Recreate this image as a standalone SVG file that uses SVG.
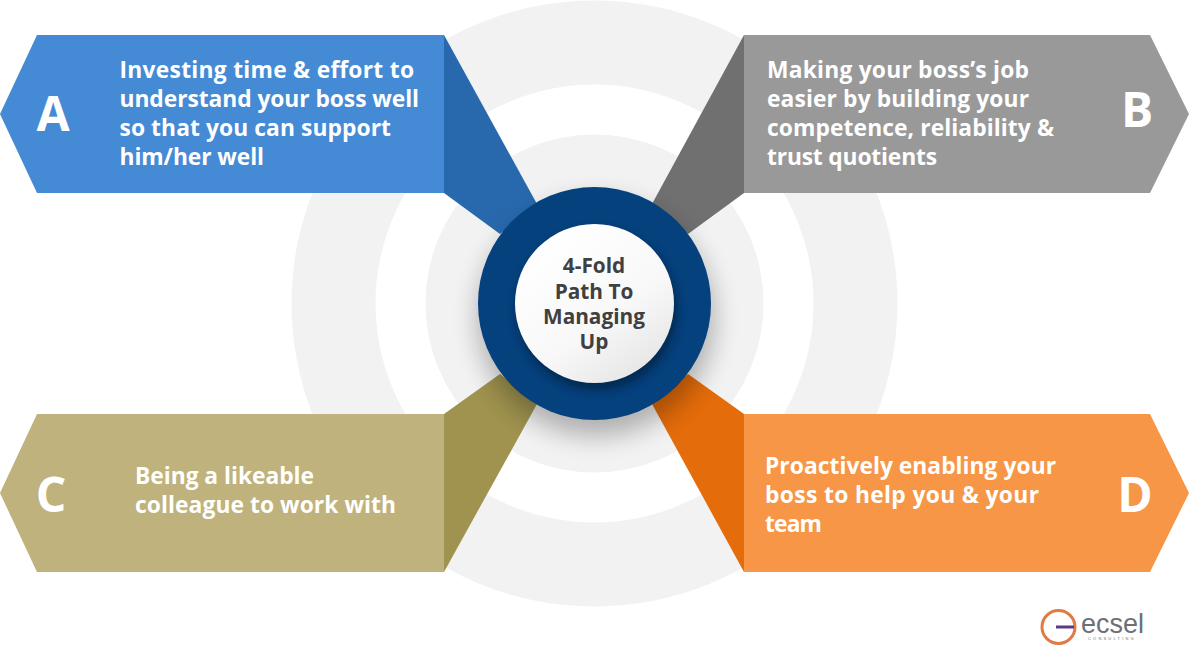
<svg xmlns="http://www.w3.org/2000/svg" width="1189" height="648" viewBox="0 0 1189 648">
  <style>
    .body { font-family: "Open Sans", "Noto Sans", sans-serif; font-weight: 700; font-size: 22.8px; fill: #ffffff; }
    .letter { font-family: "Open Sans", "Noto Sans", sans-serif; font-weight: 700; font-size: 48px; fill: #ffffff; text-anchor: middle; }
    .hub { font-family: "Open Sans", "Noto Sans", sans-serif; font-weight: 700; font-size: 20.8px; fill: #404040; text-anchor: middle; }
    .logo { font-family: "Liberation Sans", Arial, sans-serif; fill: #6b7078; }
  </style>
  <defs>
    <filter id="soft" x="-40%" y="-40%" width="180%" height="180%">
      <feGaussianBlur stdDeviation="13"/>
    </filter>
    <filter id="softSmall" x="-30%" y="-30%" width="160%" height="160%">
      <feGaussianBlur stdDeviation="5"/>
    </filter>
    <linearGradient id="hubFill" x1="0.2" y1="0.1" x2="0.8" y2="0.95">
      <stop offset="0" stop-color="#ffffff"/>
      <stop offset="0.6" stop-color="#f8f8f8"/>
      <stop offset="1" stop-color="#e6e6e6"/>
    </linearGradient>
  </defs>

  <rect width="1189" height="648" fill="#ffffff"/>

  <g id="rings">
    <circle cx="594.5" cy="303.5" r="303" fill="#f2f2f2"/>
    <circle cx="594.5" cy="303.5" r="219" fill="#ffffff"/>
    <circle cx="594.5" cy="303.5" r="169" fill="#f2f2f2"/>
  </g>

  <!-- Folded ribbons running from each banner in to the hub -->
  <g id="connectors">
    <polygon points="444,35 537,204 500,234 444,193" fill="#2869ad"/>
    <polygon points="744,35 652,204 688,234 744,193" fill="#707070"/>
    <polygon points="444,414 500,374 537,404 444,572" fill="#a0934f"/>
    <polygon points="744,414 688,374 652,404 744,572" fill="#e46c0a"/>
  </g>

  <g id="node-a">
    <polygon points="0,114 37,35 444,35 444,193 37,193" fill="#458ad4"/>
    <text class="letter" x="53" y="131">A</text>
    <text class="body" x="119.500" y="77.500" textLength="294.500">Investing time &amp; effort to</text>
    <text class="body" x="119.500" y="106.500" textLength="299.500">understand your boss well</text>
    <text class="body" x="119.500" y="136" textLength="271.500">so that you can support</text>
    <text class="body" x="119.500" y="165" textLength="144.500">him/her well</text>
  </g>

  <g id="node-b">
    <polygon points="744,35 1150,35 1189,114 1150,193 744,193" fill="#999999"/>
    <text class="letter" x="1137" y="127">B</text>
    <text class="body" x="767" y="77.500" textLength="262">Making your boss’s job</text>
    <text class="body" x="767" y="106.500" textLength="262">easier by building your</text>
    <text class="body" x="767" y="136" textLength="287">competence, reliability &amp;</text>
    <text class="body" x="767" y="165" textLength="170">trust quotients</text>
  </g>

  <g id="node-c">
    <polygon points="0,493 37,414 444,414 444,572 37,572" fill="#bfb27c"/>
    <text class="letter" x="51" y="512">C</text>
    <text class="body" x="135" y="483.500" textLength="179">Being a likeable</text>
    <text class="body" x="135" y="512.500" textLength="261">colleague to work with</text>
  </g>

  <g id="node-d">
    <polygon points="744,414 1150,414 1189,493 1150,572 744,572" fill="#f79646"/>
    <text class="letter" x="1135" y="512">D</text>
    <text class="body" x="765" y="473.500" textLength="291">Proactively enabling your</text>
    <text class="body" x="765" y="502.500" textLength="274">boss to help you &amp; your</text>
    <text class="body" x="765" y="531.500" textLength="57">team</text>
  </g>

  <g id="hub">
    <circle cx="596" cy="318" r="118" fill="#000000" opacity="0.28" filter="url(#soft)"/>
    <circle cx="594.5" cy="303.5" r="116.5" fill="#05417d"/>
    <circle cx="597" cy="310" r="80" fill="#00152c" opacity="0.55" filter="url(#softSmall)"/>
    <circle cx="594.5" cy="303.5" r="79.5" fill="url(#hubFill)"/>
    <text class="hub" x="594" y="273">4-Fold</text>
    <text class="hub" x="594" y="299">Path To</text>
    <text class="hub" x="594" y="324">Managing</text>
    <text class="hub" x="594" y="349">Up</text>
  </g>

  <g id="logo">
    <circle cx="1058.5" cy="627" r="16.5" fill="none" stroke="#e07b45" stroke-width="3"/>
    <rect x="1056" y="625.5" width="18" height="3" fill="#5b3a86"/>
    <text class="logo" x="1081" y="633" font-size="27">ecsel</text>
    <text class="logo" x="1088" y="640" font-size="4" letter-spacing="2.2">CONSULTING</text>
  </g>
</svg>
